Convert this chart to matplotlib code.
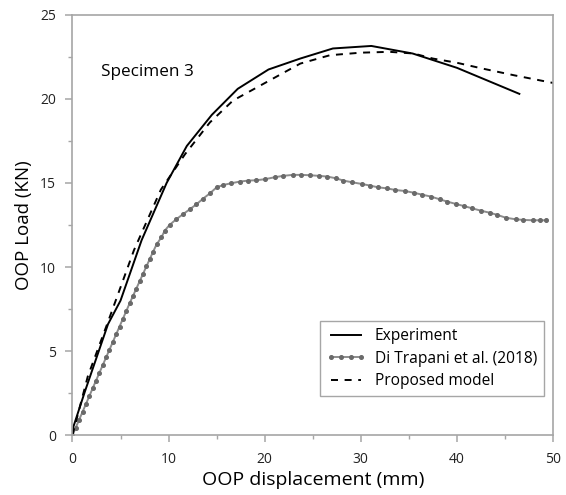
import matplotlib
matplotlib.use("Agg")
import matplotlib.pyplot as plt
from matplotlib.ticker import MultipleLocator

# Experiment (solid)
exp_x = [0.0, 0.1, 1.3, 3.7, 5.0, 7.2, 9.8, 11.9, 14.5, 17.2, 20.4, 23.7, 27.1, 31.1, 35.4, 40.0, 46.5]
exp_y = [0.0, 0.5, 2.6, 6.6, 8.0, 11.6, 15.0, 17.2, 19.05, 20.6, 21.75, 22.4, 23.0, 23.15, 22.7, 21.85, 20.3]

# Proposed model (dashed)
mod_x = [0.0, 1.6, 3.7, 6.4, 9.2, 11.7, 14.3, 16.7, 20.2, 23.7, 26.8, 30.0, 33.0, 35.5, 37.5, 40.0, 42.7, 46.0, 50.0]
mod_y = [0.0, 3.5, 6.74, 11.0, 14.6, 16.7, 18.6, 19.9, 21.0, 22.1, 22.6, 22.75, 22.8, 22.7, 22.4, 22.15, 21.8, 21.4, 20.95]

# Di Trapani et al. (2018), one point per marker
dt_x = [0.0, 0.35, 0.7, 1.05, 1.4, 1.75, 2.1, 2.45, 2.8, 3.15, 3.5, 3.85, 4.2, 4.55, 4.9,
        5.25, 5.6, 5.95, 6.3, 6.65, 7.0, 7.35, 7.7, 8.05, 8.4, 8.75, 9.26, 9.6, 10.1, 10.8,
        11.5, 12.2, 12.9, 13.6, 14.3, 15.0, 15.7, 16.5, 17.4, 18.3, 19.1, 20.0, 21.05, 21.9,
        22.9, 23.8, 24.7, 25.7, 26.5, 27.4, 28.2, 29.1, 30.1, 31.0, 31.8, 32.7, 33.6, 34.6,
        35.5, 36.4, 37.3, 38.2, 39.0, 39.9, 40.7, 41.6, 42.5, 43.4, 44.2, 45.1, 46.1, 46.9,
        47.9, 48.7, 49.3]
dt_y = [0.0, 0.45, 0.92, 1.38, 1.85, 2.31, 2.78, 3.24, 3.70, 4.16, 4.62, 5.08, 5.54, 6.0, 6.46,
        6.92, 7.38, 7.84, 8.28, 8.72, 9.16, 9.6, 10.04, 10.48, 10.92, 11.34, 11.77, 12.16, 12.5, 12.84,
        13.14, 13.43, 13.73, 14.07, 14.38, 14.74, 14.88, 14.98, 15.08, 15.14, 15.16, 15.22, 15.34, 15.42,
        15.48, 15.48, 15.46, 15.42, 15.38, 15.28, 15.14, 15.04, 14.94, 14.84, 14.74, 14.68, 14.58, 14.52,
        14.42, 14.3, 14.19, 14.03, 13.89, 13.75, 13.63, 13.49, 13.35, 13.23, 13.1, 12.93, 12.84, 12.8,
        12.78, 12.78, 12.78]

font = "Open Sans"
spine_c = "#a6a6a6"

fig = plt.figure(figsize=(5.66, 4.95), dpi=100)
ax = fig.add_axes([0.128, 0.121, 0.849, 0.849])

ax.plot(exp_x, exp_y, color="black", lw=1.4, label="Experiment")
ax.plot(dt_x, dt_y, color="#8c8c8c", lw=1.4, marker="o", ms=2.6,
        mfc="#6a6a6a", mec="#6a6a6a", label="Di Trapani et al. (2018)")
ax.plot(mod_x, mod_y, color="black", lw=1.4, ls=(0, (3.6, 3.4)), label="Proposed model")

ax.set_xlim(0, 50)
ax.set_ylim(0, 25)
ax.xaxis.set_major_locator(MultipleLocator(10))
ax.xaxis.set_minor_locator(MultipleLocator(5))
ax.yaxis.set_major_locator(MultipleLocator(5))
ax.yaxis.set_minor_locator(MultipleLocator(2.5))

for s in ax.spines.values():
    s.set_color(spine_c)
    s.set_linewidth(1.2)

ax.tick_params(which="major", direction="out", length=5, width=1.1, color=spine_c,
               labelsize=10, labelcolor="#222222", pad=7)
ax.tick_params(which="minor", direction="out", length=3, width=1.0, color=spine_c)
for lab in ax.get_xticklabels() + ax.get_yticklabels():
    lab.set_fontfamily(font)

ax.set_xlabel("OOP displacement (mm)", fontsize=14, fontfamily=font, labelpad=3)
ax.set_ylabel("OOP Load (KN)", fontsize=13.5, fontfamily=font, labelpad=5)

ax.text(3.0, 21.6, "Specimen 3", fontsize=12.3, fontfamily=font, va="center")

leg = ax.legend(loc="lower right", bbox_to_anchor=(0.988, 0.085), fancybox=False,
                edgecolor=spine_c, framealpha=1, prop={"family": font, "size": 11.2},
                handlelength=2.5, handletextpad=0.6, borderpad=0.45, labelspacing=0.42,
                borderaxespad=0.2, numpoints=4)
leg.get_frame().set_linewidth(1.0)

fig.savefig("out.png", dpi=100)
